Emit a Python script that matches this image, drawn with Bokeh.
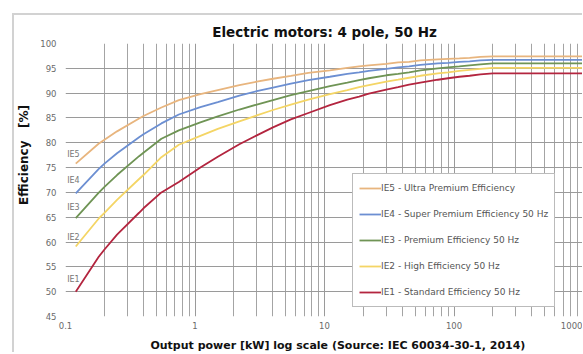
from bokeh.plotting import figure
from bokeh.models import (FixedTicker, CustomJSTickFormatter, Legend, LegendItem,
                          Range1d, Title)
from bokeh.core.properties import value
from bokeh.embed import file_html
from bokeh.resources import INLINE

# ---- data (IEC 60034-30-1, 4 pole, 50 Hz) ----
power_kw = [0.12, 0.18, 0.2, 0.25, 0.37, 0.4, 0.55, 0.75, 1.1, 1.5, 2.2, 3, 4, 5.5,
            7.5, 11, 15, 18.5, 22, 30, 37, 45, 55, 75, 90, 110, 132, 160, 200, 1000]
ie1 = [50.0, 57.0, 58.5, 61.5, 65.9, 66.8, 70.0, 72.1, 75.0, 77.2, 79.7, 81.5, 83.1, 84.7,
       86.0, 87.6, 88.7, 89.3, 89.9, 90.7, 91.2, 91.7, 92.1, 92.7, 93.0, 93.3, 93.5, 93.8, 94.0, 94.0]
ie2 = [59.1, 64.7, 65.9, 68.5, 72.7, 73.5, 77.1, 79.6, 81.4, 82.8, 84.3, 85.5, 86.6, 87.7,
       88.7, 89.8, 90.6, 91.2, 91.6, 92.3, 92.7, 93.1, 93.5, 94.0, 94.2, 94.5, 94.7, 94.9, 95.1, 95.1]
ie3 = [64.8, 69.9, 71.1, 73.5, 77.3, 78.0, 80.8, 82.5, 84.1, 85.3, 86.7, 87.7, 88.6, 89.6,
       90.4, 91.4, 92.1, 92.6, 93.0, 93.6, 93.9, 94.2, 94.6, 95.0, 95.2, 95.4, 95.6, 95.8, 96.0, 96.0]
ie4 = [69.8, 74.7, 75.8, 77.9, 81.1, 81.7, 83.9, 85.7, 87.2, 88.2, 89.5, 90.4, 91.1, 91.9,
       92.6, 93.3, 93.9, 94.2, 94.5, 94.9, 95.2, 95.4, 95.7, 96.0, 96.1, 96.3, 96.4, 96.6, 96.7, 96.7]
ie5 = [75.8, 79.8, 80.6, 82.3, 84.9, 85.4, 87.1, 88.6, 89.8, 90.6, 91.6, 92.3, 92.9, 93.5,
       94.1, 94.6, 95.1, 95.4, 95.6, 95.9, 96.2, 96.3, 96.6, 96.8, 96.9, 97.0, 97.1, 97.3, 97.4, 97.4]

series_names = ["IE5 - Ultra Premium Efficiency",
                "IE4 - Super Premium Efficiency 50 Hz",
                "IE3 - Premium Efficiency 50 Hz",
                "IE2 - High Efficiency 50 Hz",
                "IE1 - Standard Efficiency 50 Hz"]
short_labels = ["IE5", "IE4", "IE3", "IE2", "IE1"]
label_y = [77.7, 72.3, 67.0, 60.9, 52.4]
series_values = [ie5, ie4, ie3, ie2, ie1]
colors = ["#E8B57E", "#6C8FD2", "#6F9455", "#F4D565", "#B3253F"]

x_major = [0.1, 1, 10, 100, 1000]
x_minor = [m * d for d in [0.1, 1, 10, 100] for m in range(2, 10)]
y_ticks = list(range(45, 101, 5))

FONT = "DejaVu Sans"
NBSP = "\u00a0"

p = figure(width=570, height=339, x_axis_type="log",
           x_range=Range1d(0.1, 1000), y_range=Range1d(45, 100),
           output_backend="svg", toolbar_location=None,
           min_border_left=46, min_border_right=1, min_border_top=28, min_border_bottom=36)
p.margin = (13, 0, 0, 12)
p.styles = {"border-top": "2px solid #d2d2d2", "border-left": "2px solid #d2d2d2"}

p.title = Title(text="Electric motors: 4 pole, 50 Hz", align="center",
                text_font=FONT, text_font_size="13.5px", text_font_style="bold",
                text_color="#111111", offset=0, standoff=8)

p.outline_line_color = None

p.xaxis.ticker = FixedTicker(ticks=x_major, minor_ticks=x_minor)
p.xaxis.formatter = CustomJSTickFormatter(code="return String(Math.round(tick*10)/10);")
p.yaxis.ticker = FixedTicker(ticks=y_ticks)

for ax in (p.xaxis[0], p.yaxis[0]):
    ax.axis_line_color = None
    ax.major_tick_line_color = None
    ax.minor_tick_line_color = None
    ax.major_tick_out = 0
    ax.major_tick_in = 0
    ax.minor_tick_out = 0
    ax.minor_tick_in = 0
    ax.major_label_text_font = FONT
    ax.major_label_text_font_size = "8.5px"
    ax.major_label_text_color = "#6a6a6a"
    ax.axis_label_text_font = FONT
    ax.axis_label_text_font_style = "bold"
    ax.axis_label_text_color = "#111111"

p.xaxis.axis_label = NBSP * 9 + "Output power [kW]   log scale (Source: IEC 60034-30-1, 2014)"
p.xaxis.axis_label_text_font_size = "11px"
p.xaxis.major_label_standoff = 5
p.xaxis.axis_label_standoff = 7

p.yaxis.axis_label = NBSP * 12 + "Efficiency" + NBSP * 3 + "[%]"
p.yaxis.axis_label_text_font_size = "12px"
p.yaxis.major_label_standoff = 9
p.yaxis.axis_label_standoff = 6

p.xgrid.grid_line_color = "#9a9a9a"
p.xgrid.minor_grid_line_color = "#a4a4a4"
p.ygrid.grid_line_color = "#9a9a9a"

items = []
for name, vals, col, sl, ly in zip(series_names, series_values, colors, short_labels, label_y):
    r = p.line(power_kw, vals, line_color=col, line_width=1.8)
    items.append(LegendItem(label=name, renderers=[r]))
    p.text(x=[0.103], y=[ly], text=[sl], text_font=value(FONT), text_font_size="8px",
           text_color="#777777", text_baseline="middle", text_align="left")

legend = Legend(items=items, location=(287, 9), orientation="vertical",
                label_text_font=FONT, label_text_font_size="9px", label_text_color="#555555",
                glyph_width=22, glyph_height=16, label_height=16, label_standoff=0,
                spacing=10, padding=6, margin=0,
                border_line_color="#777777", border_line_width=1,
                background_fill_color="white", background_fill_alpha=1.0)
p.add_layout(legend, "center")

open("out.html", "w").write(file_html(p, INLINE))
